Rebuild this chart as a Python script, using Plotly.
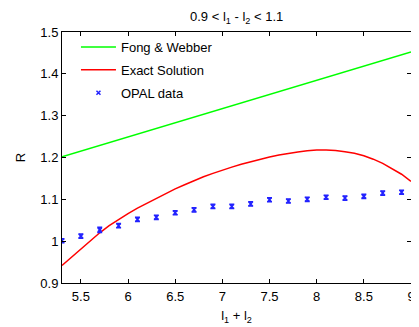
import plotly.graph_objs as go

# OPAL data points (R vs l1 + l2)
opal_x = [5.3, 5.5, 5.7, 5.9, 6.1, 6.3, 6.5, 6.7, 6.9, 7.1,
          7.3, 7.5, 7.7, 7.9, 8.1, 8.3, 8.5, 8.7, 8.9]
opal_y = [1.001, 1.012, 1.027, 1.037, 1.052, 1.057, 1.068, 1.075, 1.083, 1.083,
          1.089, 1.099, 1.096, 1.100, 1.105, 1.103, 1.107, 1.115, 1.117]
opal_err = [0.005, 0.005, 0.006, 0.005, 0.005, 0.005, 0.005, 0.005, 0.005, 0.005,
            0.005, 0.005, 0.005, 0.005, 0.005, 0.005, 0.005, 0.005, 0.005]

# Exact solution curve
exact_x = [5.3, 5.4, 5.5, 5.6, 5.7, 5.8, 5.9, 6.0, 6.1, 6.2, 6.3, 6.4, 6.5,
           6.6, 6.7, 6.8, 6.9, 7.0, 7.1, 7.2, 7.3, 7.4, 7.5, 7.6, 7.7, 7.8,
           7.9, 8.0, 8.1, 8.2, 8.3, 8.4, 8.5, 8.6, 8.7, 8.8, 8.9, 9.0]
exact_y = [0.942, 0.962, 0.982, 1.001, 1.020, 1.037, 1.052, 1.066, 1.079,
           1.091, 1.103, 1.114, 1.125, 1.135, 1.145, 1.154, 1.162, 1.170,
           1.177, 1.184, 1.190, 1.196, 1.201, 1.206, 1.210, 1.213, 1.216,
           1.218, 1.218, 1.217, 1.214, 1.210, 1.204, 1.196, 1.186, 1.174,
           1.160, 1.143]

# Fong & Webber (straight line)
fw_x = [5.3, 9.0]
fw_y = [1.202, 1.452]

x_ticks = [5.5, 6, 6.5, 7, 7.5, 8, 8.5, 9]
x_ticktext = ["5.5", "6", "6.5", "7", "7.5", "8", "8.5", "9"]
y_ticks = [0.9, 1.0, 1.1, 1.2, 1.3, 1.4, 1.5]
y_ticktext = ["0.9", "1", "1.1", "1.2", "1.3", "1.4", "1.5"]

FONT = "Liberation Sans, Arial, sans-serif"

fig = go.Figure()

fig.add_trace(go.Scatter(
    x=fw_x, y=fw_y, mode="lines", name="Fong & Webber",
    line=dict(color="#00ff00", width=1.5), legendgroup="a",
))
fig.add_trace(go.Scatter(
    x=exact_x, y=exact_y, mode="lines", name="Exact Solution",
    line=dict(color="#ff0000", width=1.5), legendgroup="b",
))
fig.add_trace(go.Scatter(
    x=opal_x, y=opal_y, mode="markers", name="OPAL data",
    marker=dict(symbol="x-thin", size=4, color="#2222ff",
                line=dict(color="#2222ff", width=1.5)),
    error_y=dict(type="data", array=opal_err, visible=True,
                 color="#2222ff", thickness=1.5, width=2.5),
    legendgroup="c",
))

axis_common = dict(
    showline=True, linecolor="black", linewidth=1, mirror="allticks",
    ticks="inside", ticklen=4, tickcolor="black", showgrid=False,
    zeroline=False, tickfont=dict(family=FONT, size=13, color="black"),
)

# page body has an 8px margin, so the margins below are offset by -8px
fig.update_layout(
    width=419, height=327,
    margin=dict(l=54, r=14, t=24, b=52),
    paper_bgcolor="white", plot_bgcolor="white",
    font=dict(family=FONT, size=13, color="black"),
    xaxis=dict(range=[5.3, 9], tickvals=x_ticks, ticktext=x_ticktext,
               ticklabeloverflow="allow", ticklabelstandoff=1,
               title=dict(text="l<sub>1</sub> + l<sub>2</sub>", standoff=8,
                          font=dict(family=FONT, size=13)),
               **axis_common),
    yaxis=dict(range=[0.9, 1.5], tickvals=y_ticks, ticktext=y_ticktext,
               title=dict(text="R", standoff=11, font=dict(family=FONT, size=13)),
               **axis_common),
    annotations=[dict(
        text="0.9 < l<sub>1</sub> - l<sub>2</sub> < 1.1",
        xref="paper", yref="paper", x=0.5, y=1.0, yshift=15,
        xanchor="center", yanchor="middle", showarrow=False,
        font=dict(family=FONT, size=13, color="black"),
    )],
    showlegend=True,
    legend=dict(x=0.04, y=1.0, xanchor="left", yanchor="top",
                bgcolor="rgba(0,0,0,0)", tracegroupgap=3, itemwidth=35,
                font=dict(family=FONT, size=13, color="black")),
)

fig.write_html("out.html")
